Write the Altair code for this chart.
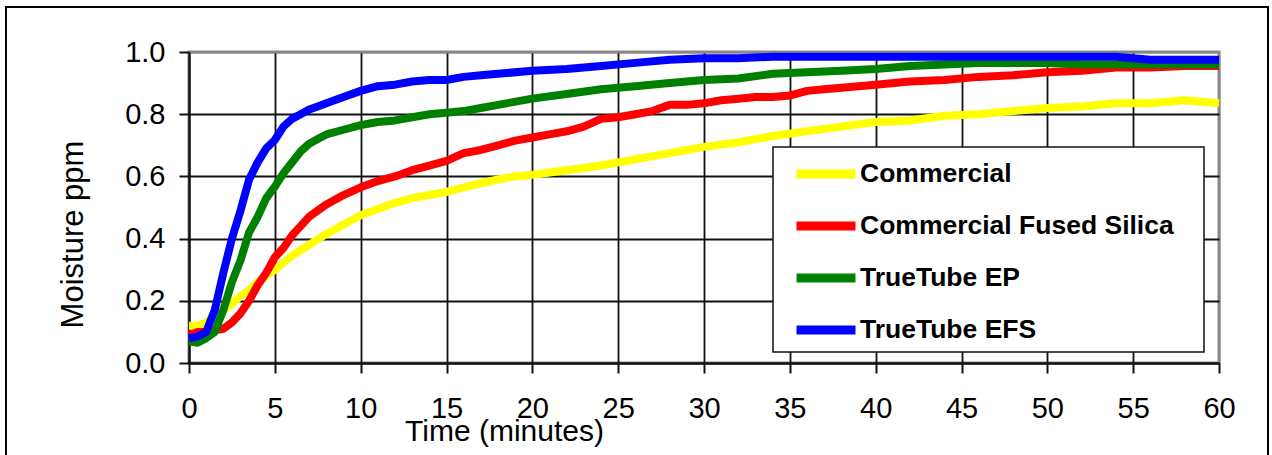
import altair as alt
import pandas as pd

series_names = ["Commercial", "Commercial Fused Silica", "TrueTube EP", "TrueTube EFS"]
series_colors = ["#FFFF00", "#FF0000", "#008000", "#0000FF"]

t_commercial = [0, 0.5, 1, 1.5, 2, 2.5, 3, 3.5, 4, 4.5, 5, 6, 7, 8, 9, 10, 11, 12, 13, 14, 15, 16, 17, 18, 19, 20,
                22, 24, 26, 28, 30, 32, 34, 36, 38, 40, 42, 44, 46, 48, 50, 52, 54, 56, 58, 60]
v_commercial = [0.12, 0.12, 0.13, 0.15, 0.17, 0.19, 0.215, 0.235, 0.26, 0.28, 0.30, 0.345, 0.38, 0.415, 0.445,
                0.475, 0.495, 0.515, 0.53, 0.54, 0.55, 0.565, 0.578, 0.59, 0.60, 0.605, 0.62, 0.635, 0.655, 0.675,
                0.695, 0.71, 0.73, 0.745, 0.76, 0.775, 0.78, 0.795, 0.80, 0.81, 0.82, 0.825, 0.835, 0.835, 0.845, 0.835]

t_fused = [0, 0.5, 1, 1.5, 2, 2.5, 3, 3.5, 4, 4.5, 5, 5.5, 6, 6.5, 7, 7.5, 8, 9, 10, 11, 12, 13, 14, 15, 16, 17, 18,
           19, 20, 21, 22, 23, 24, 25, 26, 27, 28, 29, 30, 31, 32, 33, 34, 35, 36, 37, 38, 40, 42, 44, 46, 48, 50,
           52, 54, 56, 58, 60]
v_fused = [0.09, 0.10, 0.10, 0.105, 0.11, 0.13, 0.16, 0.20, 0.25, 0.29, 0.34, 0.37, 0.41, 0.44, 0.47, 0.49, 0.51,
           0.54, 0.565, 0.585, 0.60, 0.62, 0.635, 0.65, 0.675, 0.685, 0.70, 0.715, 0.725, 0.735, 0.745, 0.76,
           0.785, 0.79, 0.80, 0.81, 0.83, 0.83, 0.835, 0.845, 0.85, 0.855, 0.855, 0.86, 0.875, 0.88, 0.885, 0.895,
           0.905, 0.91, 0.92, 0.925, 0.935, 0.94, 0.95, 0.95, 0.955, 0.955]

t_ep = [0, 0.5, 1, 1.5, 2, 2.5, 3, 3.5, 4, 4.5, 5, 5.5, 6, 6.5, 7, 7.5, 8, 9, 10, 11, 12, 13, 14, 15, 16, 17, 18, 20,
        22, 24, 26, 28, 30, 32, 34, 36, 38, 40, 42, 44, 46, 48, 50, 52, 54, 56, 58, 60]
v_ep = [0.07, 0.065, 0.08, 0.10, 0.17, 0.26, 0.33, 0.42, 0.47, 0.53, 0.567, 0.61, 0.645, 0.68, 0.705, 0.72, 0.735,
        0.75, 0.765, 0.775, 0.78, 0.79, 0.80, 0.805, 0.81, 0.82, 0.83, 0.85, 0.865, 0.88, 0.89, 0.90, 0.91, 0.915,
        0.93, 0.935, 0.94, 0.945, 0.955, 0.96, 0.965, 0.965, 0.965, 0.96, 0.96, 0.96, 0.96, 0.96]

t_efs = [0, 0.5, 1, 1.5, 2, 2.5, 3, 3.5, 4, 4.5, 5, 5.5, 6, 6.5, 7, 7.5, 8, 9, 10, 11, 12, 13, 14, 15, 16, 17, 18, 20,
         22, 24, 26, 28, 30, 32, 34, 36, 38, 40, 42, 44, 46, 48, 50, 52, 54, 56, 58, 60]
v_efs = [0.08, 0.085, 0.10, 0.17, 0.29, 0.40, 0.49, 0.59, 0.645, 0.69, 0.717, 0.76, 0.785, 0.80, 0.815, 0.825, 0.835,
         0.855, 0.875, 0.89, 0.895, 0.905, 0.91, 0.91, 0.92, 0.925, 0.93, 0.94, 0.945, 0.955, 0.965, 0.975, 0.98,
         0.98, 0.985, 0.985, 0.985, 0.985, 0.985, 0.985, 0.985, 0.985, 0.985, 0.985, 0.985, 0.975, 0.975, 0.975]

x_ticks = [0, 5, 10, 15, 20, 25, 30, 35, 40, 45, 50, 55, 60]
y_ticks = [0.0, 0.2, 0.4, 0.6, 0.8, 1.0]

rows = []
for name, ts, vs in [(series_names[0], t_commercial, v_commercial),
                     (series_names[1], t_fused, v_fused),
                     (series_names[2], t_ep, v_ep),
                     (series_names[3], t_efs, v_efs)]:
    for t, v in zip(ts, vs):
        rows.append({"series": name, "time": t, "moisture": v})
df = pd.DataFrame(rows)

FONT = "Liberation Sans"

lines = alt.Chart(df).mark_line(strokeWidth=8, strokeJoin="round", clip=False).encode(
    x=alt.X("time:Q", scale=alt.Scale(domain=[0, 60], nice=False),
            axis=alt.Axis(values=x_ticks, title="Time (minutes)", labelFontSize=29, labelFlush=False,
                          labelPadding=21, titleX=315, titleY=77, titleBaseline="alphabetic",
                          titleAlign="center", titleFontSize=30,
                          gridColor={"condition": {"test": "datum.value >= 60", "value": "#888888"},
                                     "value": "#111111"})),
    y=alt.Y("moisture:Q", scale=alt.Scale(domain=[0, 1], nice=False),
            axis=alt.Axis(values=y_ticks, format=".1f", title="Moisture ppm", labelFontSize=29,
                          labelFlush=False,
                          labelPadding=14, titleX=-107, titleY=182, titleBaseline="alphabetic",
                          titleAlign="center", titleAngle=-90, titleFontSize=31,
                          gridColor={"condition": {"test": "datum.value >= 1", "value": "#888888"},
                                     "value": "#111111"})),
    color=alt.Color("series:N", sort=series_names,
                    scale=alt.Scale(domain=series_names, range=series_colors),
                    legend=alt.Legend(title=None, orient="none", legendX=603, legendY=88,
                                      symbolType="stroke", symbolStrokeWidth=9, symbolSize=3481,
                                      labelFontSize=26.5, labelFontWeight="bold", labelFont=FONT,
                                      labelColor="black", labelOffset=0, rowPadding=-9,
                                      padding=0, labelLimit=400)),
    order=alt.Order("time:Q"),
)

legend_box = alt.Chart(pd.DataFrame({"a": [0]})).mark_rect(
    fill="white", stroke="#111111", strokeWidth=1.5, clip=False
).encode(
    x=alt.value(584), x2=alt.value(1015), y=alt.value(95), y2=alt.value(300)
)

frame = alt.Chart(pd.DataFrame({"a": [0]})).mark_rect(
    fill="transparent", stroke="black", strokeWidth=2, clip=False
).encode(
    x=alt.value(-183), x2=alt.value(1079), y=alt.value(-45), y2=alt.value(420)
)

chart = alt.layer(frame, lines, legend_box).properties(
    width=1030, height=311,
    autosize=alt.AutoSizeParams(type="none"),
    padding={"left": 189, "top": 52, "right": 53, "bottom": 92},
    background="white",
).configure_view(
    stroke="#888888", strokeWidth=3
).configure_axis(
    labelFont=FONT, titleFont=FONT, labelColor="black", titleColor="black",
    titleFontWeight="normal", tickSize=10, tickColor="#111111", tickWidth=2,
    domainColor="#111111", domainWidth=2, gridWidth=1.8, grid=True,
)

chart.save("out.html", embed_options={"renderer": "svg", "actions": False})
